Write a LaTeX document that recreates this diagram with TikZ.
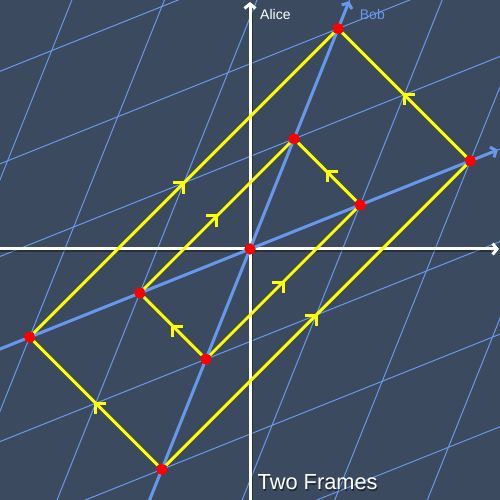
\documentclass[tikz,border=0pt]{standalone}
\usepackage{fontspec}
\setmainfont{Liberation Sans}
\usetikzlibrary{arrows.meta,decorations.markings}
\definecolor{bg}{HTML}{3B4A5F}
\definecolor{bobblue}{HTML}{6699EE}
\definecolor{ray}{HTML}{FFFF00}
\definecolor{evt}{HTML}{FF0000}
\begin{document}
\begin{tikzpicture}[x=1pt,y=1pt,
  bobframe/.style={cm={1.1020,0.4408,0.4408,1.1020,(250,251)}},
  gridline/.style={bobblue, line width=1pt},
  aliceaxis/.style={white, line width=3pt, -{Straight Barb[length=4.5pt,width=11pt]}},
  axisshadow/.style={black, opacity=0.35, line width=2pt},
  bobaxis/.style={bobblue, line width=3pt, -{Straight Barb[length=4.5pt,width=11pt]}},
  rayline/.style={ray, line width=3pt, postaction={decorate},
    decoration={markings, mark=at position 0.5 with {\draw[ray, line width=3pt, line join=miter, line cap=butt] (-7.5pt,7.5pt) -- (0pt,0pt) -- (-7.5pt,-7.5pt);}}},
  evdot/.style={circle, fill=evt, inner sep=0pt, minimum size=11pt},
  lbl/.style={inner sep=0pt, anchor=base west, font=\fontsize{14}{16}\selectfont}]
\fill[bg] (0,0) rectangle (500,500);
\useasboundingbox (0,0) rectangle (500,500);
% Bob's grid
\begin{scope}
\clip (0,0) rectangle (500,500);
\begin{scope}[bobframe]
\foreach \k in {-5,...,5} {
  \draw[gridline] (\k*100,-700) -- (\k*100,700);
  \draw[gridline] (-700,\k*100) -- (700,\k*100);
}
\end{scope}
\end{scope}
% Alice's axes
\coordinate (aW) at (0,251);
\coordinate (aE) at (499,251);
\coordinate (aS) at (250,0);
\coordinate (aN) at (250,498);
\draw[axisshadow] ([xshift=2pt]aS) -- ([xshift=2pt,yshift=-8pt]aN);
\draw[axisshadow] ([yshift=-2pt]aW) -- ([xshift=-8pt,yshift=-2pt]aE);
\draw[aliceaxis] (aW) -- (aE);
\draw[aliceaxis] (aS) -- (aN);
% Bob's axes and events
\begin{scope}[bobframe]
\coordinate (bS) at (0,-232);
\coordinate (bN) at (0,225);
\coordinate (bW) at (-232,0);
\coordinate (bE) at (225,0);
\node[evdot] (O) at (0,0) {};
\node[evdot] (T2) at (0,200) {};
\node[evdot] (T1) at (0,100) {};
\node[evdot] (B1) at (0,-100) {};
\node[evdot] (B2) at (0,-200) {};
\node[evdot] (R2) at (200,0) {};
\node[evdot] (R1) at (100,0) {};
\node[evdot] (L1) at (-100,0) {};
\node[evdot] (L2) at (-200,0) {};
\end{scope}
\draw[bobaxis] (bS) -- (bN);
\draw[bobaxis] (bW) -- (bE);
% light rays
\draw[rayline] (L2) -- (T2);
\draw[rayline] (B2) -- (R2);
\draw[rayline] (R2) -- (T2);
\draw[rayline] (B2) -- (L2);
\draw[rayline] (L1) -- (T1);
\draw[rayline] (B1) -- (R1);
\draw[rayline] (R1) -- (T1);
\draw[rayline] (B1) -- (L1);
% redraw dots on top
\foreach \e in {O,T2,T1,B1,B2,R2,R1,L1,L2} {\fill[evt] (\e) circle (5.5pt);}
% labels
\node[lbl, white] (alice) at (260,480) {Alice};
\node[lbl, text=bobblue] (bob) at (359.7,480) {Bob};
\node[inner sep=0pt, anchor=base west, font=\fontsize{21.8}{24}\selectfont, text=black, opacity=0.45] (titleshadow) at (258.5,9) {Two Frames};
\node[inner sep=0pt, anchor=base west, font=\fontsize{21.8}{24}\selectfont, text=white] (title) at (257.5,10) {Two Frames};
\end{tikzpicture}
\end{document}
